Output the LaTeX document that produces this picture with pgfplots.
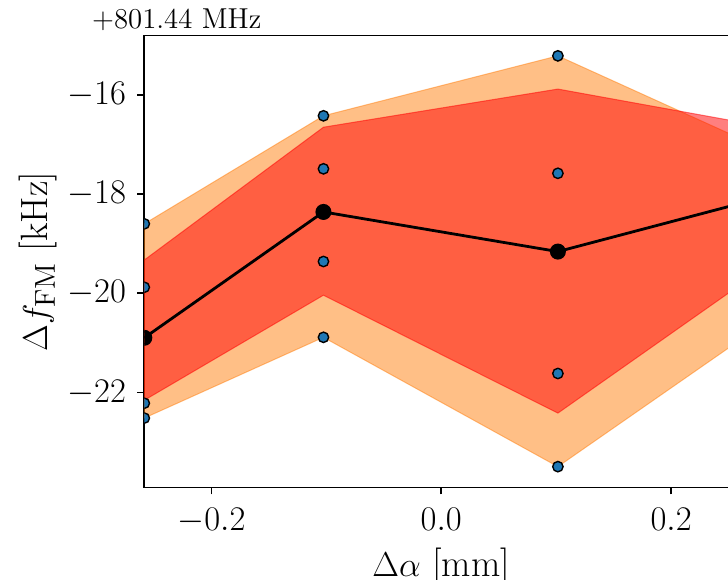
\documentclass[border=0pt]{standalone}
\usepackage{pgfplots}
\pgfplotsset{compat=1.18}
\definecolor{mplorange}{HTML}{FF7F0E}
\definecolor{mplblue}{HTML}{1F77B4}
\begin{document}
\begin{tikzpicture}
\begin{axis}[
  name=ax,
  scale only axis, width=296.95pt, height=225.8pt,
  xmin=-0.2584, xmax=0.2584, ymin=-23.917, ymax=-14.803,
  xtick={-0.2,0,0.2}, xticklabels={$-0.2$,$0.0$,$0.2$},
  ytick={-22,-20,-18,-16},
  xtick pos=bottom, ytick pos=left,
  tick align=outside, major tick length=3.5pt,
  tick style={line width=0.8pt, black},
  axis line style={line width=0.8pt},
  clip marker paths=true,
  xticklabel style={font=\fontsize{18.3}{21}\selectfont, anchor=north, inner sep=0pt, yshift=-7pt},
  yticklabel style={font=\fontsize{18.3}{21}\selectfont, anchor=east, inner sep=0pt, xshift=-5.5pt},
  xlabel={$\Delta\alpha$ [mm]},
  ylabel={$\Delta f_{\mathrm{FM}}$ [kHz]},
  every axis x label/.style={at={(axis description cs:0.5,-0.1964)}, anchor=base, inner sep=0pt, font=\fontsize{19}{22}\selectfont},
  every axis y label/.style={at={(axis description cs:-0.1638,0.5)}, anchor=base, rotate=90, inner sep=0pt, font=\fontsize{19}{22}\selectfont},
]
\addplot[draw=mplorange, draw opacity=0.5, fill=mplorange, fill opacity=0.5, line width=0.5pt]
  coordinates {(-0.2584,-18.60) (-0.1025,-16.42) (0.1015,-15.21) (0.2584,-16.86)
               (0.2584,-20.97) (0.1015,-23.50) (-0.1025,-20.89) (-0.2584,-22.52)} -- cycle;
\addplot[draw=red, draw opacity=0.5, fill=red, fill opacity=0.5, line width=0.5pt]
  coordinates {(-0.2584,-19.33) (-0.1025,-16.65) (0.1015,-15.88) (0.2584,-16.54)
               (0.2584,-19.86) (0.1015,-22.42) (-0.1025,-20.04) (-0.2584,-22.16)} -- cycle;
\addplot[black, line width=1.4pt, mark=*, mark size=3.3pt]
  coordinates {(-0.2584,-20.90) (-0.1025,-18.36) (0.1015,-19.16) (0.2584,-18.20)};
\addplot[only marks, mark=*, mark size=2.6pt, mark options={fill=mplblue, draw=black, line width=0.7pt}]
  coordinates {(-0.2584,-18.60) (-0.2584,-19.88) (-0.2584,-22.22) (-0.2584,-22.52)
               (-0.1025,-16.42) (-0.1025,-17.49) (-0.1025,-19.36) (-0.1025,-20.89)
               (0.1015,-15.21) (0.1015,-17.58) (0.1015,-21.62) (0.1015,-23.50)
               (0.2584,-16.86) (0.2584,-17.40) (0.2584,-19.10) (0.2584,-20.97)};
\end{axis}
\node[anchor=base west, inner sep=0pt, font=\fontsize{14.4}{16}\selectfont] at ([xshift=-26.3pt, yshift=3.7pt]ax.north west) {+801.44 MHz};
\pgfresetboundingbox
\useasboundingbox (-72.15pt,-45.85pt) rectangle (291.85pt,243.65pt);
\end{tikzpicture}
\end{document}
